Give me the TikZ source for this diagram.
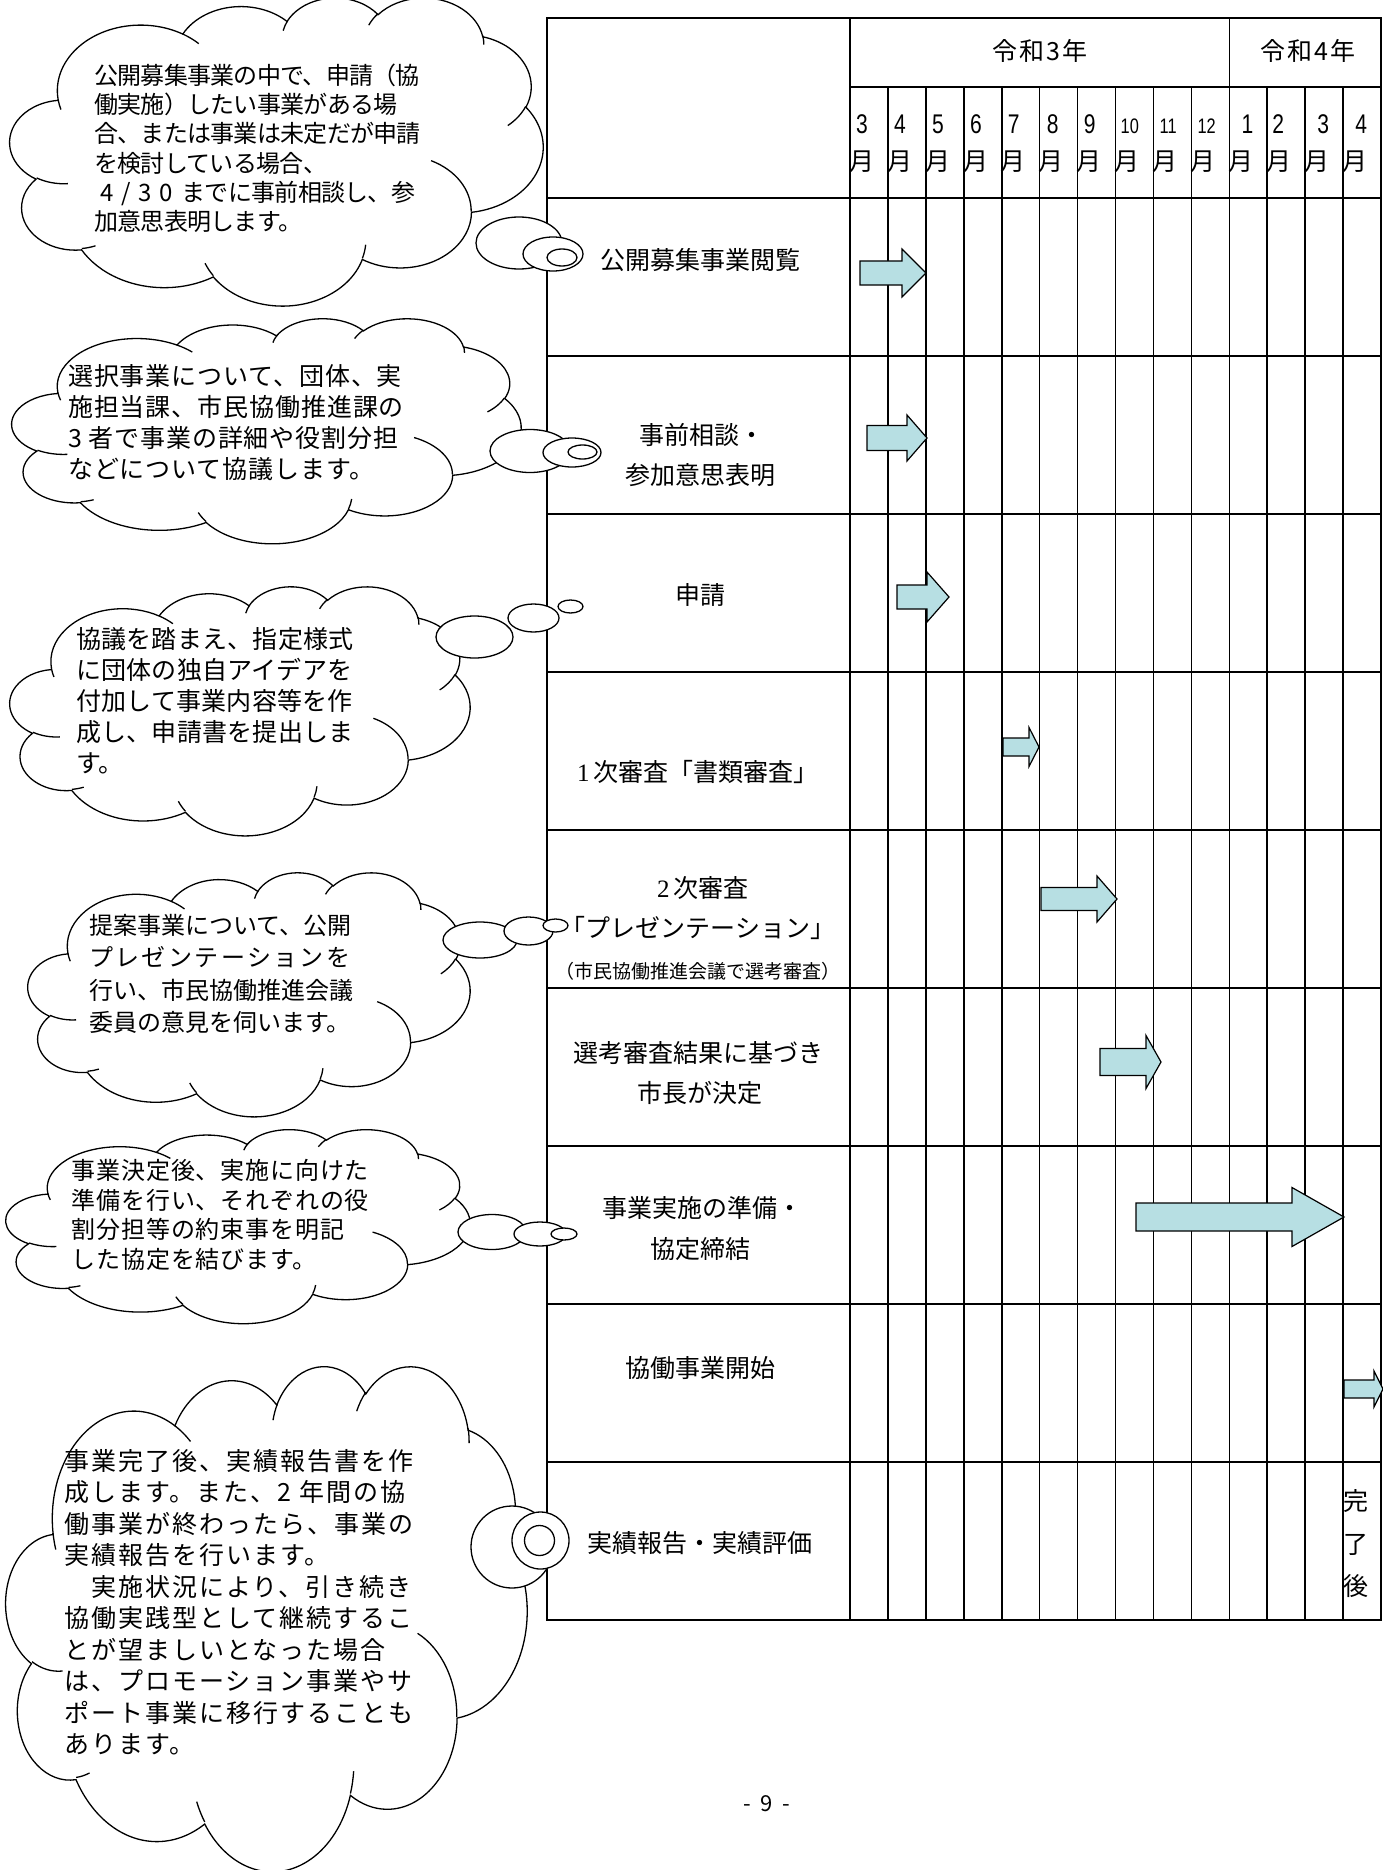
\documentclass[tikz,border=0pt]{standalone}
\usepackage{fontspec}
\newfontfamily\jp{Noto Sans CJK JP}
\newfontfamily\dig[FakeStretch=0.78]{Liberation Sans}
\newfontfamily\serifdig{Liberation Serif}
\definecolor{arrowfill}{RGB}{183,223,227}

% OOXML-style arc (visual angles) converted to a TikZ parametric arc
\newcommand\mkarc[5]{%
  \pgfmathsetmacro\tmpa{atan2((#2)*sin(#4),(#3)*cos(#4))}%
  \pgfmathsetmacro\tmpb{atan2((#2)*sin((#4)+(#5)),(#3)*cos((#4)+(#5)))}%
  \pgfmathsetmacro\tmpd{\tmpb-\tmpa}%
  \pgfmathsetmacro\tmpd{\tmpd+360*((#5)>0)*(\tmpd<0)-360*((#5)<0)*(\tmpd>0)}%
  \xdef#1{arc[start angle=\tmpa,delta angle=\tmpd,x radius=#2,y radius=#3]}%
}
\mkarc\cldA{67.53}{91.90}{-190.48748}{123.78053}
\mkarc\cldB{53.33}{72.67}{-144.10238}{89.94523}
\mkarc\cldC{43.65}{59.45}{-145.80792}{99.72302}
\mkarc\cldD{48.57}{65.95}{-130.98607}{117.24173}
\mkarc\cldE{53.33}{72.73}{-78.70888}{109.02692}
\mkarc\cldF{67.75}{92.20}{-46.26725}{130.269}
\mkarc\cldG{57.85}{78.67}{0.62502}{114.03333}
\mkarc\cldH{67.52}{92.15}{22.4516}{115.17255}
\mkarc\cldI{77.20}{105.43}{66.24263}{75.71102}
\mkarc\cldJ{43.60}{59.18}{-274.94208}{146.73557}
\mkarc\cldK{43.45}{59.45}{-246.8285}{152.51885}
\mkarc\cliA{43.45}{59.45}{86.742}{26.4295}
\mkarc\cliB{43.60}{59.18}{73.61047}{11.44747}
\mkarc\cliC{67.52}{92.15}{137.62415}{14.0811}
\mkarc\cliD{67.52}{92.15}{6.45327}{15.99835}
\mkarc\cliE{57.85}{78.67}{-70.29235}{70.91737}
\mkarc\cliF{53.33}{72.73}{30.31803}{27.7515}
\mkarc\cliG{48.57}{65.95}{-13.74433}{14.8589}
\mkarc\cliH{48.57}{65.95}{-149.18145}{18.19537}
\mkarc\cliI{43.65}{59.45}{-163.49427}{17.68635}
\mkarc\cliJ{67.53}{91.90}{-66.70695}{12.31935}
\mkarc\cliK{67.53}{91.90}{157.65435}{11.85817}

\newcommand\cloudbody{(39.00,143.70) \cldA \cldB \cldC \cldD \cldE \cldF \cldG \cldH \cldI \cldJ \cldK -- cycle}
\newcommand\cloudinner{(46.93,261.77) \cliA (69.28,348.99) \cliB (164.78,390.90) \cliC (288.27,347.51) \cliD (341.29,229.54) \cliE (417.98,153.54) \cliF (383.24,54.26) \cliG (290.78,39.52) \cliH (221.41,47.20) \cliI (140.00,51.92) \cliJ (41.27,157.89) \cliK}

\newcommand\cloudbox[4]{%
  \pgfmathsetmacro\cbx{(#3-#1)/432}%
  \pgfmathsetmacro\cby{(#4-#2)/432}%
  \begin{scope}[shift={(#1,#2)},x=\cbx pt,y=-\cby pt]
    \draw[cloudline,fill=white] \cloudbody;
    \draw[cloudline] \cloudinner;
  \end{scope}}

\newcommand\cloudlines[7]{% name, x, y0, pitch, size, letterspace, lines
  \foreach \lineT [count=\i from 0] in {#7} {
    \node[ctext,font=\jp\fontsize{#5}{#5}\selectfont\addfontfeature{LetterSpace=#6}] (#1-\i) at (#2,{#3+\i*#4}) {\lineT};
  }}

\newcommand\barrow[6]{% x0 xhead xtip ymid bodyhalf headhalf
  \draw[arrowbox] (#1,#4-#5) -- (#2,#4-#5) -- (#2,#4-#6) -- (#3,#4) -- (#2,#4+#6) -- (#2,#4+#5) -- (#1,#4+#5) -- cycle;}

\begin{document}
\begin{tikzpicture}[x=1pt,y=-1pt,
  tabline/.style={line width=2pt},
  hline/.style={line width=2pt},
  vline/.style={line width=1.6pt},
  cloudline/.style={draw=black,line width=1.3pt},
  arrowbox/.style={draw=black,line width=1.2pt,fill=arrowfill,line join=miter},
  rowlab/.style={font=\jp\fontsize{25}{25}\selectfont,inner sep=0pt,text height=21pt,text depth=4pt},
  yearlab/.style={font=\jp\fontsize{25}{25}\selectfont\addfontfeature{LetterSpace=8},inner sep=0pt,text height=21pt,text depth=4pt},
  smalllab/.style={font=\jp\fontsize{19}{19}\selectfont,inner sep=0pt,text height=16pt,text depth=3pt},
  monlab/.style={font=\jp\fontsize{25}{25}\selectfont,inner sep=0pt,text height=21pt,text depth=4pt,anchor=west},
  ctext/.style={inner sep=0pt,text height=21pt,text depth=4pt,anchor=west},
]
\fill[white] (0,0) rectangle (1383,1870);
\useasboundingbox (0,0) rectangle (1383,1870);

% ---------- table ----------
\foreach \yy in {198,356,514,672,830,988,1146,1304,1462} \draw[hline] (547,\yy) -- (1381,\yy);
\draw[hline] (850,87) -- (1381,87);
\foreach \k in {1,...,13} \draw[vline] ({850+\k*37.93},87) -- ({850+\k*37.93},1620);
\draw[vline] (1229.3,18) -- (1229.3,87);
\draw[vline] (850,18) -- (850,1620);
\draw[tabline] (547,18) rectangle (1381,1620);

\node[yearlab] (y3) at (1040,52) {令和3年};
\node[yearlab] (y4) at (1308,52) {令和4年};
\foreach \d/\off/\sz [count=\k from 0] in {3/6/27,4/6/27,5/6/27,6/6/27,7/6/27,8/7/27,9/6/27,10/5/21,11/6/21,12/6/21,1/12/27,2/5/27,3/12/27,4/12/27}{
  \node[inner sep=0pt,anchor=base west,font=\dig\fontsize{\sz}{\sz}\selectfont] (m\k) at ({850+\k*37.93+\off},134) {\d};
  \node[monlab] (mj\k) at ({850+\k*37.93-1},162) {月};
}

\node[rowlab] (r1) at (700,261) {公開募集事業閲覧};
\node[rowlab] (r2a) at (702,436) {事前相談・};
\node[rowlab] (r2b) at (700,476) {参加意思表明};
\node[rowlab] (r3) at (700,596) {申請};
\node[rowlab] (r4) at (698,773) {{\serifdig 1}\,次審査「書類審査」};
\node[rowlab] (r5a) at (703,889) {{\serifdig 2}\,次審査};
\node[rowlab] (r5b) at (698,929) {「プレゼンテーション」};
\node[smalllab] (r5c) at (698,972) {（市民協働推進会議で選考審査）};
\node[rowlab] (r6a) at (698,1054) {選考審査結果に基づき};
\node[rowlab] (r6b) at (700,1094) {市長が決定};
\node[rowlab] (r7a) at (702,1209) {事業実施の準備・};
\node[rowlab] (r7b) at (700,1250) {協定締結};
\node[rowlab] (r8) at (700,1369) {協働事業開始};
\node[rowlab] (r9) at (700,1544) {実績報告・実績評価};
\node[monlab] (k1) at (1343,1502) {完};
\node[monlab] (k2) at (1343,1545) {了};
\node[monlab] (k3) at (1343,1587) {後};

% ---------- arrows ----------
\barrow{860}{902}{926}{273}{12}{24}
\barrow{867}{907}{927}{438}{12.5}{23}
\barrow{897}{927}{949}{597}{12}{25}
\barrow{1003}{1029}{1039}{747}{9}{19.5}
\barrow{1041}{1097}{1117}{899}{11.5}{23}
\barrow{1100}{1146}{1161}{1062}{13.5}{26.5}
\barrow{1136}{1292}{1344}{1217}{14}{29.5}
\barrow{1344}{1374}{1383}{1389}{9}{18}

% ---------- clouds ----------
\cloudbox{10}{-3}{543}{305}
\cloudlines{c1}{94}{76}{29.2}{24}{-3}{公開募集事業の中で、申請（協, 働実施）したい事業がある場, 合、または事業は未定だが申請, を検討している場合、, \hspace{6pt}{\addfontfeature{LetterSpace=32}4/30}\hspace{9pt}までに事前相談し、参, 加意思表明します。}
\draw[cloudline,fill=white] (519,243) ellipse[x radius=43,y radius=26];
\draw[cloudline,fill=white] (553,254) ellipse[x radius=30,y radius=17];
\draw[cloudline,fill=white] (562,257.5) ellipse[x radius=15,y radius=8.5];

\cloudbox{12}{318}{521}{543}
\cloudlines{c2}{68}{377}{31}{25}{3.6}{選択事業について、団体、実, 施担当課、市民協働推進課の, 3 者で事業の詳細や役割分担, などについて協議します。}
\draw[cloudline,fill=white] (530,451) ellipse[x radius=40,y radius=21.5];
\draw[cloudline,fill=white] (572,452.5) ellipse[x radius=29,y radius=14.5];
\draw[cloudline,fill=white] (582.5,452) ellipse[x radius=14.5,y radius=7];

\cloudbox{10}{586}{470}{835}
\cloudlines{c3}{76}{640}{31}{25}{1}{協議を踏まえ、指定様式, に団体の独自アイデアを, 付加して事業内容等を作, 成し、申請書を提出しま, す。}
\draw[cloudline,fill=white] (474.5,637) ellipse[x radius=38.5,y radius=21];
\draw[cloudline,fill=white] (533.5,618) ellipse[x radius=25.5,y radius=14];
\draw[cloudline,fill=white] (570.5,606.5) ellipse[x radius=12.5,y radius=6.5];

\cloudbox{28}{872}{470}{1116}
\cloudlines{c4}{89}{926}{32.3}{24}{0}{提案事業について、公開, {\addfontfeature{LetterSpace=10}プレゼンテーションを}, 行い、市民協働推進会議, 委員の意見を伺います。}
\draw[cloudline,fill=white] (480,940) ellipse[x radius=37,y radius=18];
\draw[cloudline,fill=white] (528.5,931) ellipse[x radius=24.5,y radius=14];
\draw[cloudline,fill=white] (555.5,925.5) ellipse[x radius=12.5,y radius=6.5];

\cloudbox{6}{1129}{470}{1323}
\cloudlines{c5}{71.5}{1171}{29.7}{24}{3.5}{事業決定後、実施に向けた, 準備を行い、それぞれの役, 割分担等の約束事を明記, した協定を結びます。}
\draw[cloudline,fill=white] (492,1232) ellipse[x radius=34,y radius=17.5];
\draw[cloudline,fill=white] (540,1234) ellipse[x radius=26,y radius=12];
\draw[cloudline,fill=white] (564,1234) ellipse[x radius=13,y radius=6];

\cloudbox{6}{1365}{527}{1870}
\cloudlines{c6}{64}{1461.5}{31.5}{25}{8}{事業完了後、実績報告書を作, 成します。また、2 年間の協, 働事業が終わったら、事業の, 実績報告を行います。, 　実施状況により、引き続き, 協働実践型として継続するこ, とが望ましいとなった場合, は、プロモーション事業やサ, ポート事業に移行することも, あります。}
\draw[cloudline,fill=white] (512,1547) circle[radius=41];
\draw[cloudline,fill=white] (540.5,1540.5) circle[radius=28.5];
\draw[cloudline,fill=white] (539.5,1540.5) circle[radius=15];

\node[font=\jp\fontsize{22}{22}\selectfont,inner sep=0pt] (pg) at (767,1804) {-\hspace{0.45em}9\hspace{0.45em}-};
\end{tikzpicture}
\end{document}
